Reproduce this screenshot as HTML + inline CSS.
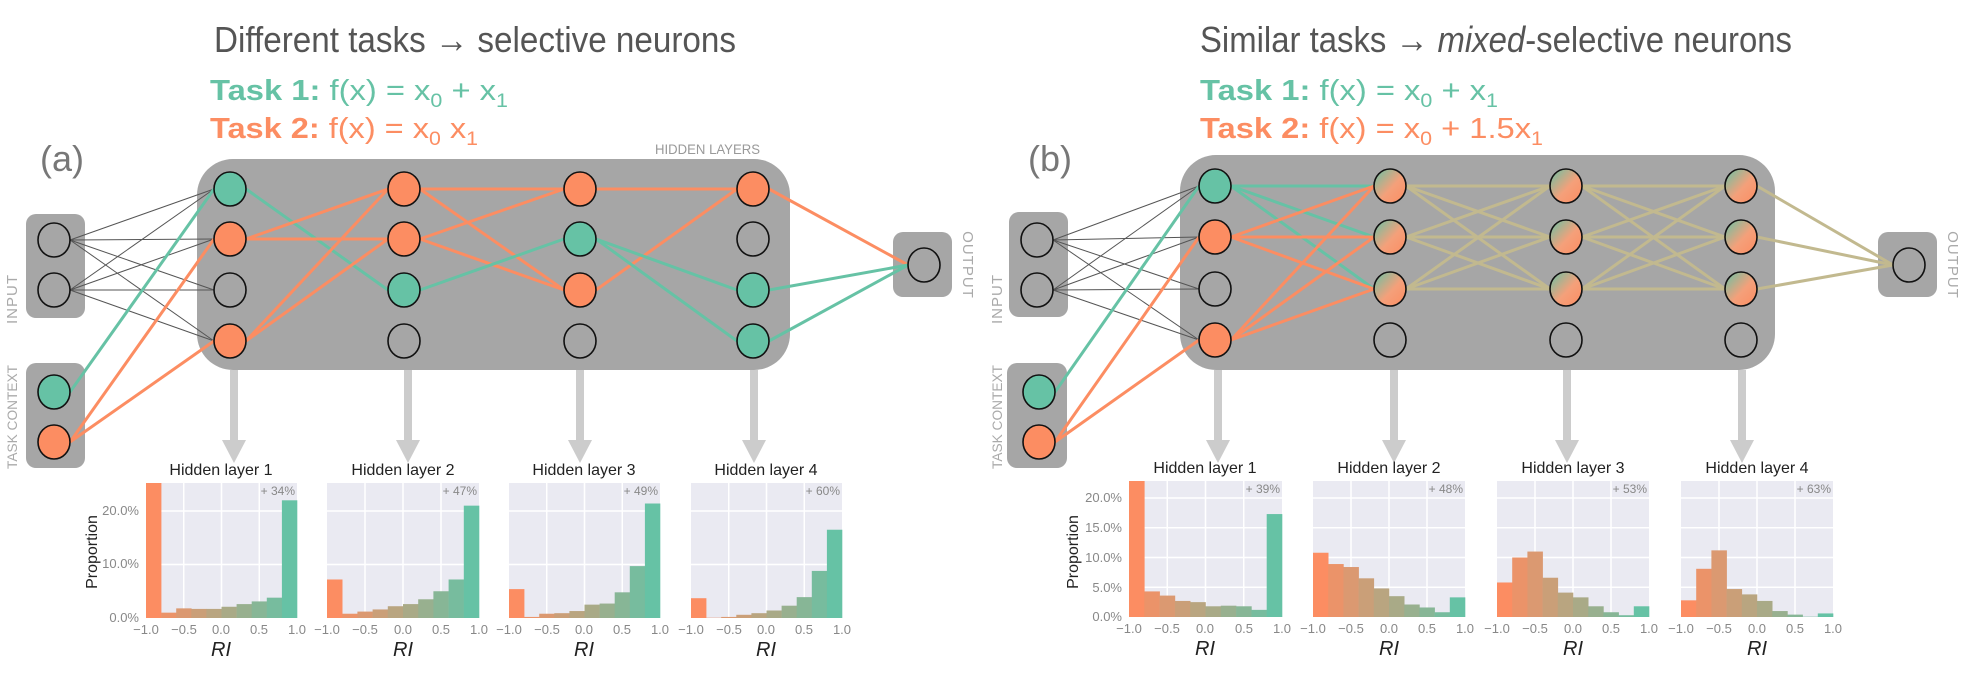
<!DOCTYPE html>
<html><head><meta charset="utf-8">
<style>
html,body{margin:0;padding:0;background:#fff;}
svg{display:block;}
text{font-family:"Liberation Sans",sans-serif;}
</style></head>
<body>
<svg id="s" width="1977" height="679" viewBox="0 0 1977 679" xmlns="http://www.w3.org/2000/svg">
<defs>
<linearGradient id="mix" x1="0" y1="0" x2="1" y2="1">
<stop offset="0" stop-color="#66c2a5"/><stop offset="0.55" stop-color="#f4a07a"/><stop offset="1" stop-color="#fc8d62"/>
</linearGradient>
</defs>
<g id="boxes"></g>
<g id="edges"></g>
<g id="nodes"></g>
<g id="plots"></g>

<!-- Titles -->
<text x="214" y="52" font-size="36" fill="#555" textLength="522" lengthAdjust="spacingAndGlyphs">Different tasks → selective neurons</text>
<text x="210" y="100" font-size="29" fill="#66c2a5" textLength="298" lengthAdjust="spacingAndGlyphs"><tspan font-weight="bold">Task 1:</tspan>  f(x) = x<tspan font-size="19" dy="7">0</tspan><tspan dy="-7"> + x</tspan><tspan font-size="19" dy="7">1</tspan></text>
<text x="210" y="138" font-size="29" fill="#fc8d62" textLength="268" lengthAdjust="spacingAndGlyphs"><tspan font-weight="bold">Task 2:</tspan>  f(x) = x<tspan font-size="19" dy="7">0</tspan><tspan dy="-7"> x</tspan><tspan font-size="19" dy="7">1</tspan></text>

<text x="1200" y="52" font-size="36" fill="#555" textLength="592" lengthAdjust="spacingAndGlyphs">Similar tasks → <tspan font-style="italic">mixed</tspan>-selective neurons</text>
<text x="1200" y="100" font-size="29" fill="#66c2a5" textLength="298" lengthAdjust="spacingAndGlyphs"><tspan font-weight="bold">Task 1:</tspan>  f(x) = x<tspan font-size="19" dy="7">0</tspan><tspan dy="-7"> + x</tspan><tspan font-size="19" dy="7">1</tspan></text>
<text x="1200" y="138" font-size="29" fill="#fc8d62" textLength="343" lengthAdjust="spacingAndGlyphs"><tspan font-weight="bold">Task 2:</tspan>  f(x) = x<tspan font-size="19" dy="7">0</tspan><tspan dy="-7"> + 1.5x</tspan><tspan font-size="19" dy="7">1</tspan></text>

<text x="40" y="171" font-size="36" fill="#777">(a)</text>
<text x="1028" y="171" font-size="36" fill="#777">(b)</text>

<text x="655" y="154" font-size="14" fill="#999" textLength="105" lengthAdjust="spacingAndGlyphs">HIDDEN LAYERS</text>

<!-- side labels -->
<text transform="translate(17,299) rotate(-90)" text-anchor="middle" font-size="15" fill="#aaa" letter-spacing="1">INPUT</text>
<text transform="translate(17,417) rotate(-90)" text-anchor="middle" font-size="14" fill="#aaa" textLength="104" lengthAdjust="spacingAndGlyphs">TASK CONTEXT</text>
<text transform="translate(963,265) rotate(90)" text-anchor="middle" font-size="15" fill="#aaa" letter-spacing="1">OUTPUT</text>
<text transform="translate(1002,299) rotate(-90)" text-anchor="middle" font-size="15" fill="#aaa" letter-spacing="1">INPUT</text>
<text transform="translate(1002,417) rotate(-90)" text-anchor="middle" font-size="14" fill="#aaa" textLength="104" lengthAdjust="spacingAndGlyphs">TASK CONTEXT</text>
<text transform="translate(1948,265) rotate(90)" text-anchor="middle" font-size="15" fill="#aaa" letter-spacing="1">OUTPUT</text>

<!-- hist titles -->
<g font-size="16" fill="#222" text-anchor="middle">
<text x="221" y="475">Hidden layer 1</text>
<text x="403" y="475">Hidden layer 2</text>
<text x="584" y="475">Hidden layer 3</text>
<text x="766" y="475">Hidden layer 4</text>
<text x="1205" y="473">Hidden layer 1</text>
<text x="1389" y="473">Hidden layer 2</text>
<text x="1573" y="473">Hidden layer 3</text>
<text x="1757" y="473">Hidden layer 4</text>
</g>
<g font-size="12" fill="#888" text-anchor="end">
<text x="295" y="495">+ 34%</text>
<text x="477" y="495">+ 47%</text>
<text x="658" y="495">+ 49%</text>
<text x="840" y="495">+ 60%</text>
<text x="1280" y="493">+ 39%</text>
<text x="1463" y="493">+ 48%</text>
<text x="1647" y="493">+ 53%</text>
<text x="1831" y="493">+ 63%</text>
</g>
<g font-size="13" fill="#888" text-anchor="end">
<text x="139" y="622">0.0%</text>
<text x="139" y="568">10.0%</text>
<text x="139" y="515">20.0%</text>
<text x="1122" y="621">0.0%</text>
<text x="1122" y="592">5.0%</text>
<text x="1122" y="562">10.0%</text>
<text x="1122" y="532">15.0%</text>
<text x="1122" y="502">20.0%</text>
</g>
<text transform="translate(97,552) rotate(-90)" text-anchor="middle" font-size="16" fill="#222">Proportion</text>
<text transform="translate(1078,552) rotate(-90)" text-anchor="middle" font-size="16" fill="#222">Proportion</text>
<g id="ticks" font-size="13" fill="#888" text-anchor="middle">
<text x="146" y="634">−1.0</text><text x="184" y="634">−0.5</text><text x="221" y="634">0.0</text><text x="259" y="634">0.5</text><text x="297" y="634">1.0</text>
<text x="327" y="634">−1.0</text><text x="365" y="634">−0.5</text><text x="403" y="634">0.0</text><text x="441" y="634">0.5</text><text x="479" y="634">1.0</text>
<text x="509" y="634">−1.0</text><text x="547" y="634">−0.5</text><text x="584" y="634">0.0</text><text x="622" y="634">0.5</text><text x="660" y="634">1.0</text>
<text x="691" y="634">−1.0</text><text x="729" y="634">−0.5</text><text x="766" y="634">0.0</text><text x="804" y="634">0.5</text><text x="842" y="634">1.0</text>
<text x="1129" y="633">−1.0</text><text x="1167" y="633">−0.5</text><text x="1205" y="633">0.0</text><text x="1244" y="633">0.5</text><text x="1282" y="633">1.0</text>
<text x="1313" y="633">−1.0</text><text x="1351" y="633">−0.5</text><text x="1389" y="633">0.0</text><text x="1427" y="633">0.5</text><text x="1465" y="633">1.0</text>
<text x="1497" y="633">−1.0</text><text x="1535" y="633">−0.5</text><text x="1573" y="633">0.0</text><text x="1611" y="633">0.5</text><text x="1649" y="633">1.0</text>
<text x="1681" y="633">−1.0</text><text x="1719" y="633">−0.5</text><text x="1757" y="633">0.0</text><text x="1795" y="633">0.5</text><text x="1833" y="633">1.0</text>
</g>
<g font-size="20" fill="#222" text-anchor="middle" font-style="italic" style="font-family:'Liberation Serif',serif">
<text x="221" y="656">RI</text><text x="403" y="656">RI</text><text x="584" y="656">RI</text><text x="766" y="656">RI</text>
<text x="1205" y="655">RI</text><text x="1389" y="655">RI</text><text x="1573" y="655">RI</text><text x="1757" y="655">RI</text>
</g>
</svg>
<script>
var NS="http://www.w3.org/2000/svg";
function el(g,t,a){var e=document.createElementNS(NS,t);for(var k in a)e.setAttribute(k,a[k]);document.getElementById(g).appendChild(e);return e;}
var G="#66c2a5",O="#fc8d62",K="#c2b98f",B="#a6a6a6";
// boxes
function boxes(dx,hb){
 el("boxes","rect",{x:hb[0],y:hb[1],width:hb[2]-hb[0],height:hb[3]-hb[1],rx:36,fill:B});
}
el("boxes","rect",{x:197,y:159,width:593,height:211,rx:36,fill:B});
el("boxes","rect",{x:26,y:214,width:59,height:104,rx:10,fill:B});
el("boxes","rect",{x:26,y:363,width:59,height:105,rx:10,fill:B});
el("boxes","rect",{x:893,y:232,width:59,height:65,rx:10,fill:B});
el("boxes","rect",{x:1180,y:155,width:595,height:215,rx:36,fill:B});
el("boxes","rect",{x:1009,y:212,width:59,height:105,rx:10,fill:B});
el("boxes","rect",{x:1007,y:363,width:60,height:105,rx:10,fill:B});
el("boxes","rect",{x:1878,y:232,width:59,height:65,rx:10,fill:B});
// arrows
function arrow(x){el("boxes","rect",{x:x-4,y:370,width:8,height:72,fill:"#cccccc"});
 el("boxes","polygon",{points:(x-12)+",440 "+(x+12)+",440 "+x+",463",fill:"#cccccc"});}
[234,408,580,754,1218,1394,1567,1742].forEach(arrow);
var R=16;
function line(a,b,c,w){el("edges","line",{x1:a[0]+R,y1:a[1],x2:b[0]-R,y2:b[1],stroke:c,"stroke-width":w});}
function node(p,f){el("nodes","ellipse",{cx:p[0],cy:p[1],rx:R,ry:R+1,fill:f,stroke:"#111","stroke-width":1.6});}
// left net
var LC=[230,404,580,753],LR=[189,239,290,341];
var L=LC.map(function(x){return LR.map(function(y){return[x,y];});});
var inL=[[54,240],[54,290]],ctxL=[[54,392],[54,442]],outL=[924,265];
inL.forEach(function(a){L[0].forEach(function(b){line(a,b,"#555",1);});});
line(ctxL[0],L[0][0],G,3);line(ctxL[1],L[0][1],O,3);line(ctxL[1],L[0][3],O,3);
line(L[0][0],L[1][2],G,3);
[1,3].forEach(function(i){[0,1].forEach(function(j){line(L[0][i],L[1][j],O,3);});});
[0,1].forEach(function(i){[0,2].forEach(function(j){line(L[1][i],L[2][j],O,3);});});
line(L[1][2],L[2][1],G,3);
line(L[2][0],L[3][0],O,3);line(L[2][2],L[3][0],O,3);
line(L[2][1],L[3][2],G,3);line(L[2][1],L[3][3],G,3);
line(L[3][0],outL,O,3);line(L[3][2],outL,G,3);line(L[3][3],outL,G,3);
var colL=[[G,O,B,O],[O,O,G,B],[O,G,O,B],[O,B,G,G]];
L.forEach(function(c,i){c.forEach(function(p,j){node(p,colL[i][j]);});});
inL.concat([outL]).forEach(function(p){node(p,B);});node(ctxL[0],G);node(ctxL[1],O);
// right net
var RC=[1215,1390,1566,1741],RR=[186,237,289,340];
var Rn=RC.map(function(x){return RR.map(function(y){return[x,y];});});
var inR=[[1037,240],[1037,290]],ctxR=[[1039,392],[1039,442]],outR=[1909,265];
inR.forEach(function(a){Rn[0].forEach(function(b){line(a,b,"#555",1);});});
line(ctxR[0],Rn[0][0],G,3);line(ctxR[1],Rn[0][1],O,3);line(ctxR[1],Rn[0][3],O,3);
[0,1,2].forEach(function(j){line(Rn[0][0],Rn[1][j],G,3);});
[1,3].forEach(function(i){[0,1,2].forEach(function(j){line(Rn[0][i],Rn[1][j],O,3);});});
[1,2].forEach(function(l){[0,1,2].forEach(function(i){[0,1,2].forEach(function(j){line(Rn[l][i],Rn[l+1][j],K,3);});});});
[0,1,2].forEach(function(i){line(Rn[3][i],outR,K,3);});
var colR=[G,O,B,O];
Rn[0].forEach(function(p,j){node(p,colR[j]);});
for(var l=1;l<4;l++){for(var j=0;j<3;j++)node(Rn[l][j],"url(#mix)");node(Rn[l][3],B);}
inR.concat([outR]).forEach(function(p){node(p,B);});node(ctxR[0],G);node(ctxR[1],O);
// plots
function mix(t){var a=[252,141,98],b=[102,194,165];return"rgb("+a.map(function(v,i){return Math.round(v+(b[i]-v)*t);}).join(",")+")";}
function plot(x0,x1,top,bot,ppp,grid,data){
 el("plots","rect",{x:x0,y:top,width:x1-x0,height:bot-top,fill:"#eaeaf2"});
 [0.25,0.5,0.75].forEach(function(f){var x=x0+(x1-x0)*f;el("plots","line",{x1:x,y1:top,x2:x,y2:bot,stroke:"#fff","stroke-width":1.5});});
 grid.forEach(function(g){var y=bot-g*ppp;el("plots","line",{x1:x0,y1:y,x2:x1,y2:y,stroke:"#fff","stroke-width":1.5});});
 var w=(x1-x0)/10;
 data.forEach(function(v,i){var h=Math.min(v*ppp,bot-top);if(h<=0)return;
  el("plots","rect",{x:x0+i*w,y:bot-h,width:w+0.3,height:h,fill:mix(i/9)});});
}
var LD=[[26,1,1.8,1.7,1.7,2.1,2.6,3.1,3.8,22],[7.2,0.8,1.2,1.6,2.2,2.6,3.5,5,7.2,21],[5.4,0.2,0.8,0.9,1.3,2.5,2.7,4.8,9.7,21.4],[3.7,0.05,0.2,0.6,0.9,1.4,2.3,3.9,8.8,16.5]];
var LX=[[146,297],[327,479],[509,660],[691,842]];
LX.forEach(function(r,i){plot(r[0],r[1],483,618,5.35,[10,20],LD[i]);});
var RD=[[23,4.3,3.6,2.7,2.5,1.8,1.9,1.8,1.2,17.3],[10.8,8.9,8.4,6.5,4.8,3.5,2.1,1.6,0.8,3.3],[5.8,10,11,6.6,4.1,3.3,1.8,0.8,0.3,1.8],[2.8,8.1,11.2,4.7,3.8,2.7,1.0,0.4,0.05,0.6]];
var RX=[[1129,1282],[1313,1465],[1497,1649],[1681,1833]];
RX.forEach(function(r,i){plot(r[0],r[1],481,617,5.95,[5,10,15,20],RD[i]);});
</script>
</body></html>
